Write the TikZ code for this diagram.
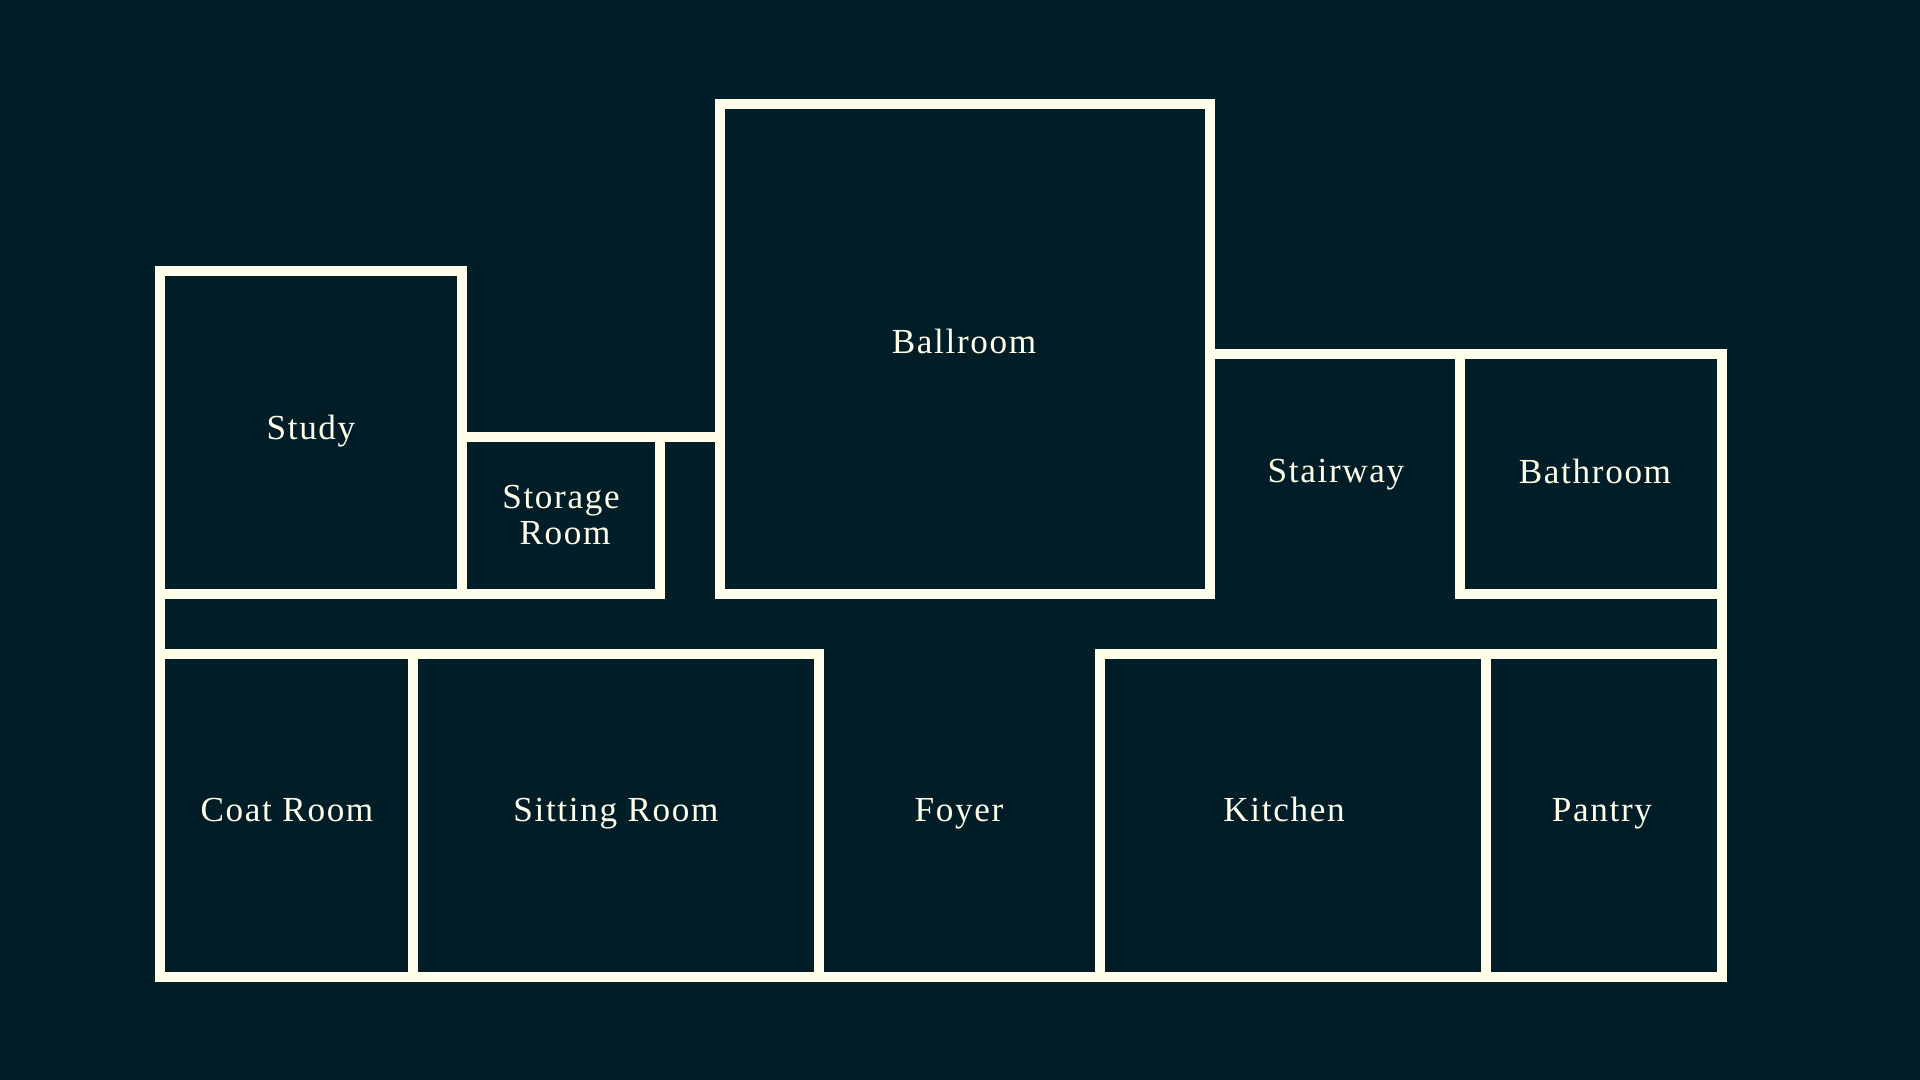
\documentclass[tikz,border=0pt]{standalone}
\usepackage{fontspec}
\setmainfont[LetterSpace=4.7]{Liberation Serif}
\usepackage{tikz}
\definecolor{floorbg}{HTML}{011E28}
\definecolor{wallcol}{HTML}{FFFFE9}

\begin{document}
\begin{tikzpicture}[x=0.01cm,y=-0.01cm,
        wall/.style={draw=wallcol,line width=0.1cm,miter limit=10},
        roomlabel/.style={text=wallcol,anchor=base,inner sep=0pt,font=\fontsize{10pt}{12pt}\selectfont}]
            \fill [floorbg] (0,0) rectangle (1920,1080);
            \draw [wall] (160,271) rectangle (462,594);
            \draw [wall] (462,437) rectangle (660,594);
            \draw [wall] (660,437) -- (720,437);
            \draw [wall] (720,104) rectangle (1210,594);
            \draw [wall] (1210,354) -- (1722,354);
            \draw [wall] (1460,354) rectangle (1722,594);
            \draw [wall] (160,594) -- (160,654);
            \draw [wall] (1722,594) -- (1722,654);
            \draw [wall] (160,654) rectangle (413,977);
            \draw [wall] (413,654) rectangle (819,977);
            \draw [wall] (819,977) -- (1100,977);
            \draw [wall] (1100,654) rectangle (1486,977);
            \draw [wall] (1486,654) rectangle (1722,977);
            \node [roomlabel] (study) at (311,440) {Study};
            \node [roomlabel] (storage) at (561,509) {Storage};
            \node [roomlabel] (storageroom) at (565,545) {Room};
            \node [roomlabel] (ballroom) at (964,354) {Ballroom};
            \node [roomlabel] (stairway) at (1336,483) {Stairway};
            \node [roomlabel] (bathroom) at (1595,484) {Bathroom};
            \node [roomlabel] (coatroom) at (287,822) {Coat Room};
            \node [roomlabel] (sittingroom) at (616,822) {Sitting Room};
            \node [roomlabel] (foyer) at (959,822) {Foyer};
            \node [roomlabel] (kitchen) at (1284,822) {Kitchen};
            \node [roomlabel] (pantry) at (1602,822) {Pantry};
        \end{tikzpicture}
\end{document}
